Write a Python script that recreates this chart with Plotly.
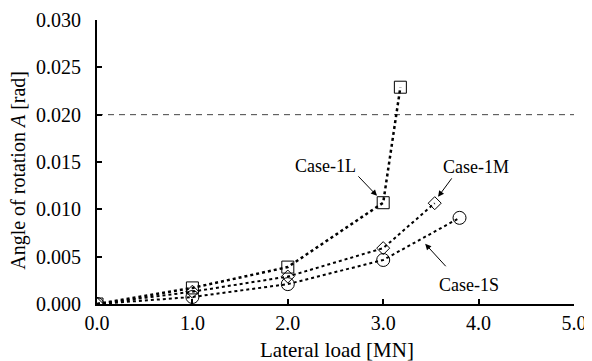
import plotly.graph_objects as go

# Data
load_L = [0.0, 1.0, 2.0, 3.0, 3.18]
rot_L = [0.0, 0.0017, 0.0039, 0.0107, 0.0229]
load_M = [0.0, 1.0, 2.0, 3.0, 3.54]
rot_M = [0.0, 0.0013, 0.0029, 0.0059, 0.01065]
load_S = [0.0, 1.0, 2.0, 3.0, 3.80]
rot_S = [0.0, 0.00074, 0.0021, 0.00465, 0.0091]
limit_value = 0.020

x_ticks = [0.0, 1.0, 2.0, 3.0, 4.0, 5.0]
x_ticklabels = ["0.0", "1.0", "2.0", "3.0", "4.0", "5.0"]
y_ticks = [0.000, 0.005, 0.010, 0.015, 0.020, 0.025, 0.030]
y_ticklabels = ["0.000", "0.005", "0.010", "0.015", "0.020", "0.025", "0.030"]

x_title = "Lateral load [MN]"
y_title = "Angle of rotation <i>A</i> [rad]"

FONT = "Times New Roman, Liberation Serif, serif"

fig = go.Figure()

fig.add_trace(go.Scatter(
    x=[0, 5], y=[limit_value, limit_value], mode="lines",
    line=dict(color="#444", width=1, dash="6px,5px"),
    showlegend=False, hoverinfo="skip"))

fig.add_trace(go.Scatter(
    x=load_S, y=rot_S, mode="lines+markers", name="Case-1S",
    line=dict(color="black", width=2, dash="dot"),
    marker=dict(symbol="circle-open", size=13, color="black", line=dict(width=1)),
    showlegend=False))
fig.add_trace(go.Scatter(
    x=load_M, y=rot_M, mode="lines+markers", name="Case-1M",
    line=dict(color="black", width=2, dash="dot"),
    marker=dict(symbol="diamond-open", size=10, color="black", line=dict(width=1)),
    showlegend=False))
fig.add_trace(go.Scatter(
    x=load_L, y=rot_L, mode="lines+markers", name="Case-1L",
    line=dict(color="black", width=2.5, dash="dot"),
    marker=dict(symbol="square-open", size=12, color="black", line=dict(width=1)),
    showlegend=False))

labels = [
    ("Case-1L", 2.40, 0.01459, 2.725, 0.01364, 2.935, 0.01143),
    ("Case-1M", 3.97, 0.01449, 3.73, 0.01343, 3.575, 0.01132),
    ("Case-1S", 3.90, 0.00204, 3.67, 0.00383, 3.44, 0.00636),
]
for txt, tx, ty, ax_, ay_, hx, hy in labels:
    fig.add_annotation(x=tx, y=ty, text=txt, showarrow=False,
                       font=dict(family=FONT, size=18, color="black"))
    fig.add_annotation(x=hx, y=hy, ax=ax_, ay=ay_, axref="x", ayref="y",
                       text="", showarrow=True, arrowhead=2, arrowsize=1.2,
                       arrowwidth=1, arrowcolor="black")

# axis titles
fig.add_annotation(xref="paper", yref="paper", x=0.503, y=-0.162,
                   text=x_title, showarrow=False, xanchor="center", yanchor="middle",
                   font=dict(family=FONT, size=21, color="black"))
fig.add_annotation(xref="paper", yref="paper", x=-0.165, y=0.47,
                   text=y_title, showarrow=False, textangle=-90,
                   xanchor="center", yanchor="middle",
                   font=dict(family=FONT, size=20, color="black"))

# page body has an 8px margin, so the figure is sized to fit the 592x361 window
fig.update_layout(
    width=584, height=353,
    margin=dict(l=89, r=18, t=12, b=57, autoexpand=False),
    paper_bgcolor="white", plot_bgcolor="white",
    font=dict(family=FONT, size=18, color="black"),
)
fig.update_xaxes(
    range=[0, 5], tickvals=x_ticks, ticktext=x_ticklabels,
    tickfont=dict(family=FONT, size=20), automargin=False,
    showline=True, linecolor="black", linewidth=2,
    ticks="inside", ticklen=5, tickwidth=2, tickcolor="black",
    ticklabelstandoff=0,
    showgrid=False, zeroline=False,
)
fig.update_yaxes(
    range=[0, 0.030], tickvals=y_ticks, ticktext=y_ticklabels,
    tickfont=dict(family=FONT, size=20), automargin=False,
    showline=True, linecolor="black", linewidth=2,
    ticks="inside", ticklen=5, tickwidth=2, tickcolor="black",
    ticklabelstandoff=10,
    showgrid=False, zeroline=False,
)

fig.write_html("out.html")
